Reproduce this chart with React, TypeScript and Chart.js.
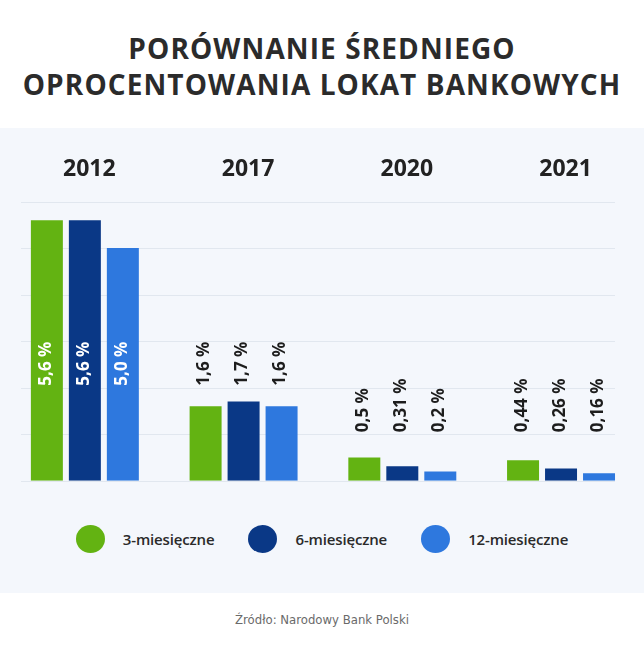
import { useEffect, useRef } from "react"
import { Chart, registerables } from "chart.js"

Chart.register(...registerables)

// Chart data
const years = ["2012", "2017", "2020", "2021"]
const seriesNames = ["3-miesięczne", "6-miesięczne", "12-miesięczne"]
const threeMonth = [5.6, 1.6, 0.5, 0.44]
const sixMonth = [5.6, 1.7, 0.31, 0.26]
const twelveMonth = [5.0, 1.6, 0.2, 0.16]
const yTicks = [0, 1, 2, 3, 4, 5, 6]
const seriesColors = ["#63b312", "#0a3886", "#2e78de"]

const FONT = "'Open Sans', 'Noto Sans', sans-serif"
const GRID_LEFT = 21
const GRID_RIGHT = 615

const formatValue = (v: number) => {
  let s = String(v)
  if (!s.includes(".")) s += ".0"
  return s.replace(".", ",") + " %"
}

// horizontal guide lines, drawn on the y scale values
const gridPlugin = {
  id: "panelGrid",
  beforeDatasetsDraw(chart: any) {
    const { ctx, scales } = chart
    ctx.save()
    ctx.strokeStyle = "#e1e7ef"
    ctx.lineWidth = 1.2
    yTicks.forEach((t) => {
      const y = Math.round(scales.y.getPixelForValue(t)) + 0.5
      ctx.beginPath()
      ctx.moveTo(GRID_LEFT, y)
      ctx.lineTo(GRID_RIGHT, y)
      ctx.stroke()
    })
    ctx.restore()
  },
}

// rotated value labels
const labelPlugin = {
  id: "valueLabels",
  afterDatasetsDraw(chart: any) {
    const { ctx, scales } = chart
    const sets = chart.data.datasets
    ctx.save()
    ctx.font = `bold 17px ${FONT}`
    ctx.textAlign = "left"
    ctx.textBaseline = "middle"
    sets.forEach((ds: any, di: number) => {
      const meta = chart.getDatasetMeta(di)
      meta.data.forEach((bar: any, i: number) => {
        const groupMax = Math.max(...sets.map((s: any) => s.data[i]))
        const anchor = Math.min(2, Math.ceil(groupMax))
        const y = scales.y.getPixelForValue(anchor) - 2
        const text = formatValue(ds.data[i])
        const w = ctx.measureText(text).width
        const inside = bar.y < y - w - 6
        ctx.fillStyle = inside ? "#ffffff" : "#1d1d1d"
        ctx.save()
        ctx.translate(bar.x - 1, y)
        ctx.rotate(-Math.PI / 2)
        ctx.fillText(text, 0, 0)
        ctx.restore()
      })
    })
    ctx.restore()
  },
}

function DepositChart() {
  const chartRef = useRef<HTMLCanvasElement>(null)
  const chartInstance = useRef<Chart | null>(null)

  useEffect(() => {
    if (!chartRef.current) return
    if (chartInstance.current) chartInstance.current.destroy()

    const values = [threeMonth, sixMonth, twelveMonth]
    const ctx = chartRef.current.getContext("2d")
    if (ctx) {
      chartInstance.current = new Chart(ctx, {
        type: "bar",
        data: {
          labels: years,
          datasets: values.map((data, i) => ({
            label: seriesNames[i],
            data,
            backgroundColor: seriesColors[i],
            borderWidth: 0,
            barPercentage: 0.842,
            categoryPercentage: 0.718,
          })),
        },
        options: {
          responsive: true,
          maintainAspectRatio: false,
          animation: false,
          layout: { padding: { top: 10, left: 5.5, right: 3.6, bottom: 19.3 } },
          plugins: {
            legend: { display: false },
            tooltip: { enabled: false },
          },
          scales: {
            x: {
              type: "category",
              position: "top",
              offset: true,
              grid: { display: false, drawTicks: false },
              border: { display: false },
              ticks: {
                color: "#222222",
                padding: 18,
                labelOffset: 4.5,
                font: { family: FONT, size: 23, weight: "bold" },
              },
            },
            y: {
              display: false,
              min: 0,
              max: yTicks[yTicks.length - 1],
              ticks: { stepSize: 1 },
            },
          },
        },
        plugins: [gridPlugin, labelPlugin],
      })
    }

    return () => {
      if (chartInstance.current) {
        chartInstance.current.destroy()
        chartInstance.current = null
      }
    }
  }, [])

  return (
    <div style={{ position: "absolute", left: 0, top: 128, width: 644, height: 372 }}>
      <canvas ref={chartRef} />
    </div>
  )
}

export default function App() {
  useEffect(() => {
    document.body.style.margin = "0"
  }, [])

  return (
    <div style={{ position: "relative", width: 644, height: 650, background: "#ffffff", fontFamily: FONT, overflow: "hidden" }}>
      <div
        style={{
          position: "absolute",
          top: 30,
          left: 0,
          width: 644,
          textAlign: "center",
          fontSize: 28,
          lineHeight: "36px",
          fontWeight: 700,
          color: "#2b2b2b",
          letterSpacing: 1.1,
        }}
      >
        PORÓWNANIE ŚREDNIEGO
        <br />
        OPROCENTOWANIA LOKAT BANKOWYCH
      </div>
      <div style={{ position: "absolute", top: 128, left: 0, width: 644, height: 465, background: "#f4f7fc" }} />
      <DepositChart />
      <div
        style={{
          position: "absolute",
          top: 525,
          left: 0,
          width: 644,
          height: 28,
          display: "flex",
          justifyContent: "center",
          alignItems: "center",
        }}
      >
        {seriesNames.map((name, i) => (
          <div key={name} style={{ display: "flex", alignItems: "center", marginLeft: i === 0 ? 0 : 34 }}>
            <span
              style={{ width: 29, height: 28, borderRadius: "50%", background: seriesColors[i], display: "inline-block" }}
            />
            <span style={{ marginLeft: 18, fontSize: 15, fontWeight: 600, color: "#2a2a2a", letterSpacing: -0.15 }}>
              {name}
            </span>
          </div>
        ))}
      </div>
      <div
        style={{
          position: "absolute",
          top: 611,
          left: 0,
          width: 644,
          textAlign: "center",
          fontSize: 13,
          lineHeight: "18px",
          color: "#6a6a6a",
          fontFamily: "'Liberation Sans Narrow', 'DejaVu Sans Condensed', 'Roboto', sans-serif",
        }}
      >
        Źródło: Narodowy Bank Polski
      </div>
    </div>
  )
}
